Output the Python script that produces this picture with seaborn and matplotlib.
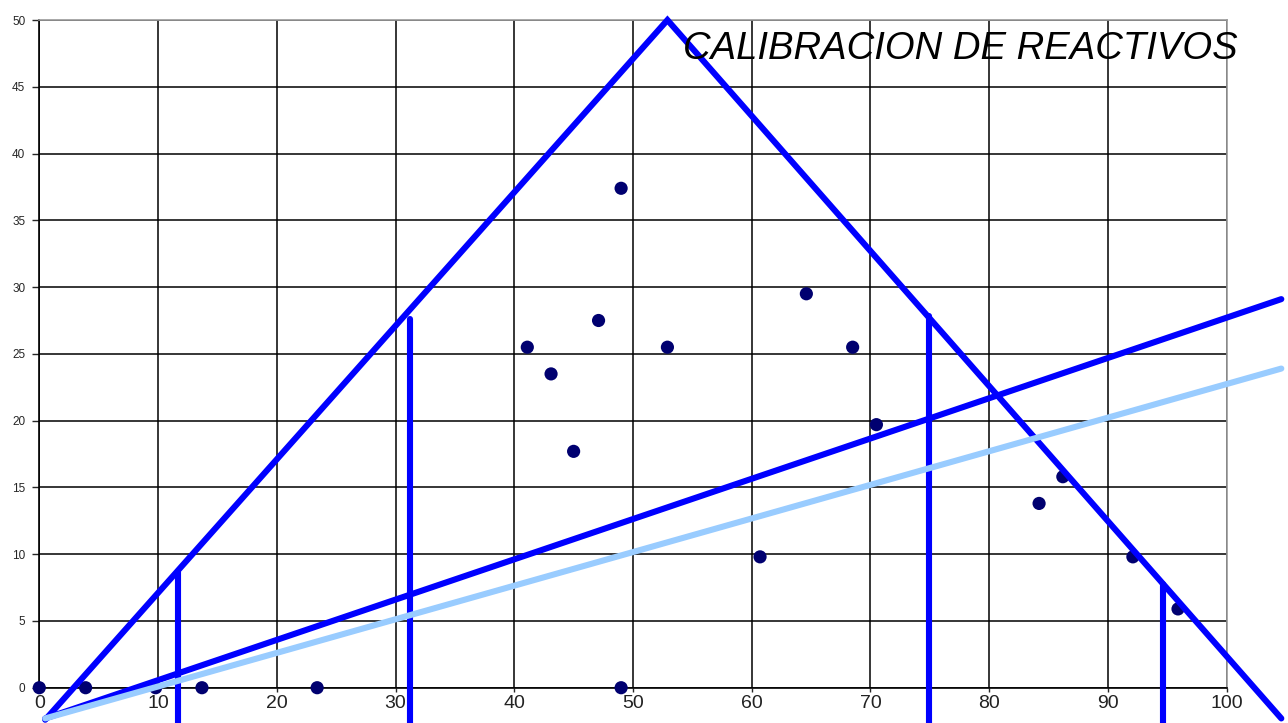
import matplotlib
matplotlib.use("Agg")
import matplotlib.pyplot as plt
import seaborn as sns
import pandas as pd

# datos de los puntos
pts_x = [0, 3.9, 9.8, 13.7, 23.4, 49, 49, 41.1, 43.1, 45, 47.1, 52.9,
         60.7, 64.6, 68.5, 70.5, 84.2, 86.2, 92.1, 95.9]
pts_y = [0, 0, 0, 0, 0, 0, 37.4, 25.5, 23.5, 17.7, 27.5, 25.5,
         9.8, 29.5, 25.5, 19.7, 13.8, 15.8, 9.8, 5.9]

# triangulo
tri_x = [0.5, 52.9, 104.6]
tri_y = [-2.4, 50, -2.3]

# lineas verticales (x, altura)
vert_x = [11.7, 31.2, 74.9, 94.6]
vert_top = [8.7, 27.6, 27.8, 7.8]

# rectas
reg_x = [0.5, 104.6]
reg_dark = [-2.3, 29.1]
reg_light = [-2.3, 23.9]

x_ticks = list(range(0, 101, 10))
y_ticks = list(range(0, 51, 5))

sns.set_style("white")
plt.rcParams['font.family'] = ['Liberation Sans', 'DejaVu Sans']

fig = plt.figure(figsize=(12.88, 7.23), dpi=100)
ax = fig.add_axes([0.0305, 0.0488, 0.9219, 0.9235])

df = pd.DataFrame({"x": pts_x, "y": pts_y})
sns.scatterplot(data=df, x="x", y="y", ax=ax, color="#000070", s=90,
                edgecolor="none", zorder=3, clip_on=False)

blue = "#0000ff"
lw = 4.4
ax.plot(tri_x, tri_y, color=blue, lw=lw, clip_on=False, zorder=4,
        solid_joinstyle="miter")
for vx, vt in zip(vert_x, vert_top):
    ax.plot([vx, vx], [-3, vt], color=blue, lw=lw, clip_on=False, zorder=4)

sns.lineplot(x=reg_x, y=reg_dark, ax=ax, color=blue, lw=lw, zorder=4)
sns.lineplot(x=reg_x, y=reg_light, ax=ax, color="#99ccff", lw=lw, zorder=4)
for ln in ax.lines:
    ln.set_clip_on(False)

ax.set_xlim(0, 100)
ax.set_ylim(0, 50)
ax.set_xticks(x_ticks)
ax.set_yticks(y_ticks)
ax.grid(True, color="black", lw=1.1)
ax.set_axisbelow(True)
ax.set_xlabel("")
ax.set_ylabel("")

ax.tick_params(axis="x", labelsize=14, length=3, width=1, direction="out",
               pad=2, bottom=True, labelcolor="#222222")
ax.tick_params(axis="y", labelsize=8.5, length=5, width=1, direction="out",
               pad=5, left=True)

ax.spines["left"].set_color("black")
ax.spines["bottom"].set_color("black")
ax.spines["top"].set_color("#999999")
ax.spines["right"].set_color("#999999")
for sp in ax.spines.values():
    sp.set_linewidth(1.2)

ax.text(54.2, 47.8, "CALIBRACION DE REACTIVOS", fontsize=27.5, style="italic",
        va="center", ha="left", color="black", zorder=5)

fig.savefig("out.png", dpi=100)
